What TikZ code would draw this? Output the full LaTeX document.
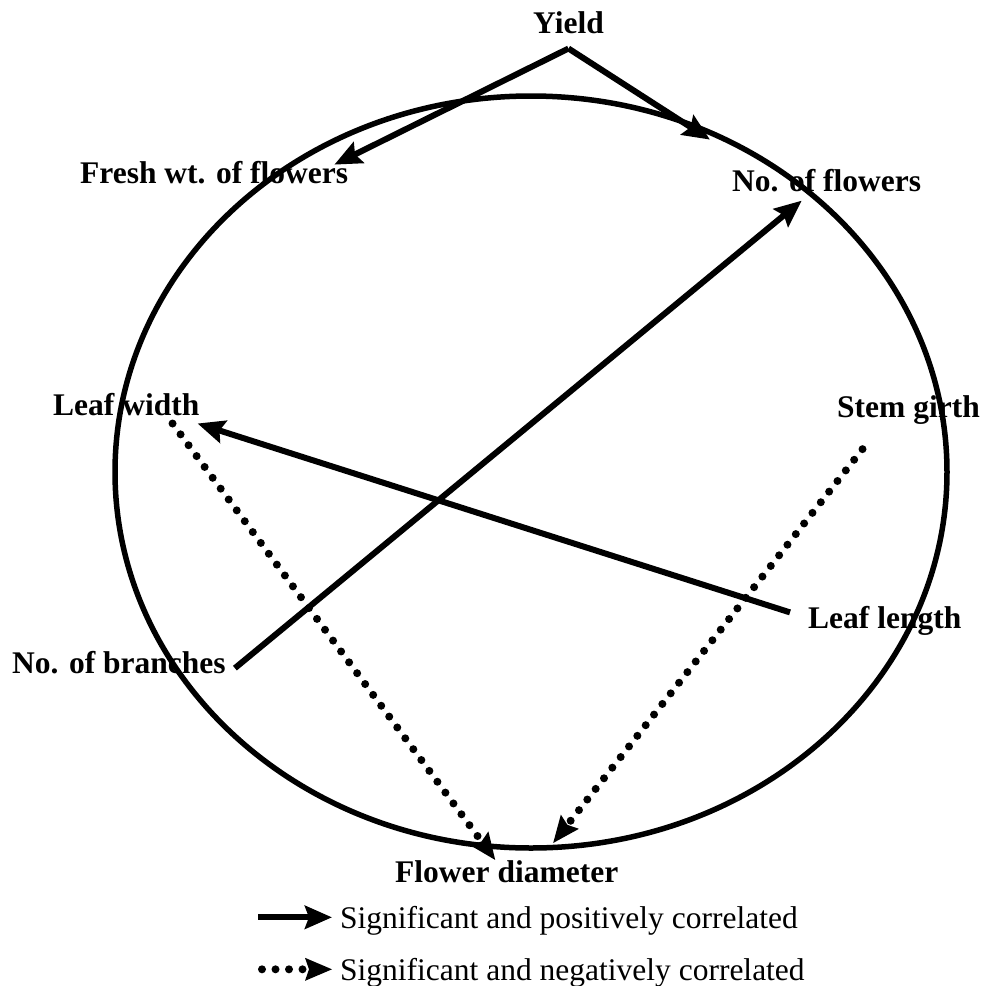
\documentclass[tikz,border=0pt]{standalone}
\usepackage{fontspec}
\setmainfont{Liberation Serif}
\usepackage{tikz}
\usetikzlibrary{positioning,arrows.meta}

\begin{document}
\begin{tikzpicture}[x=1pt,y=-1pt,
    lbl/.style={inner sep=0pt,anchor=base west,font=\fontsize{31.5}{36}\selectfont\bfseries},
    legtxt/.style={inner sep=0pt,anchor=base west,font=\fontsize{31.5}{36}\selectfont},
    poscor/.style={line width=6pt,-{Stealth[length=27pt,width=23pt,inset=4pt]}},
    negcor/.style={line width=8pt,line cap=round,dash pattern=on 0pt off 13.5pt,
      -{Stealth[length=27pt,width=23pt,inset=4pt,line width=0pt]}}]
  \useasboundingbox (0,0) rectangle (985,986);
  \draw[line width=5.5pt] (531,472) ellipse [x radius=416pt,y radius=376pt];
  % traits
  \node[lbl](yield) at (533,33){Yield};
  \node[lbl](fresh) at (80,183){Fresh wt. of flowers};
  \node[lbl](noflowers) at (732,191){No. of flowers};
  \node[lbl](leafwidth) at (53,415){Leaf width};
  \node[lbl](stemgirth) at (837,417){Stem girth};
  \node[lbl](leaflength) at (808,628){Leaf length};
  \node[lbl](branches) at (12,673){No. of branches};
  \node[lbl](diameter) at (395,882){Flower diameter};
  % correlations
  \draw[poscor] ([yshift=-15pt]yield.south) -- ([shift={(-14pt,-4pt)}]fresh.north east);
  \draw[poscor] ([yshift=-15pt]yield.south) -- ([shift={(-22pt,29pt)}]noflowers.north west);
  \draw[poscor] ([shift={(9pt,-6pt)}]branches.east) -- ([shift={(-25pt,-9pt)}]noflowers.south);
  \draw[poscor] ([shift={(-18pt,8pt)}]leaflength.west) -- ([shift={(-2pt,-8pt)}]leafwidth.south east);
  \draw[negcor] ([shift={(-46pt,-25pt)}]stemgirth.south) -- ([shift={(46.5pt,17pt)}]diameter.north);
  \draw[negcor] ([shift={(-27pt,-8pt)}]leafwidth.south east) -- ([shift={(-11.5pt,0pt)}]diameter.north);
  % legend
  \node[legtxt](legpos) at (340,928){Significant and positively correlated};
  \node[legtxt](legneg) at (340,980){Significant and negatively correlated};
  \draw[poscor] ([shift={(-82pt,3pt)}]legpos.west) -- ([shift={(-8pt,3pt)}]legpos.west);
  \draw[negcor] ([shift={(-78pt,3pt)}]legneg.west) -- ([shift={(-8pt,3pt)}]legneg.west);
\end{tikzpicture}
\end{document}
